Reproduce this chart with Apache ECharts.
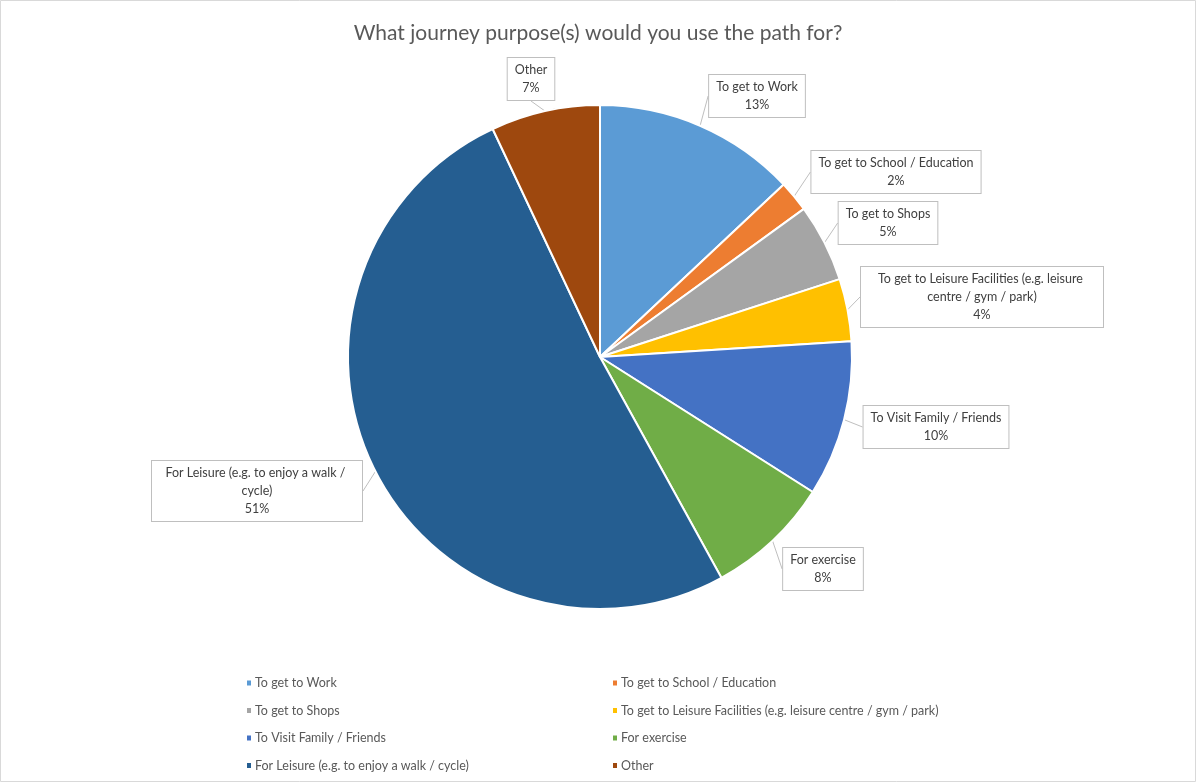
<!DOCTYPE html>
<html>
<head>
<meta charset="utf-8">
<script src="https://cdn.jsdelivr.net/npm/echarts@6/dist/echarts.min.js"></script>
<style>
  html, body { margin: 0; padding: 0; background: #fff; }
  #chart { width: 1196px; height: 782px; }
</style>
</head>
<body>
<div id="chart"></div>
<script>
// Survey answers: journey purposes for the path (share of responses, %)
const categories = [
  'To get to Work',
  'To get to School / Education',
  'To get to Shops',
  'To get to Leisure Facilities (e.g. leisure centre / gym / park)',
  'To Visit Family / Friends',
  'For exercise',
  'For Leisure (e.g. to enjoy a walk / cycle)',
  'Other'
];
const values = [13, 2, 5, 4, 10, 8, 51, 7];
const colors = ['#5B9BD5', '#ED7D31', '#A5A5A5', '#FFC000', '#4472C4', '#70AD47', '#255E91', '#9E480E'];

// Callout box centres and wrap widths for each slice label
const calloutCentres = [
  [757, 96], [896, 172], [888, 223], [982, 297],
  [936, 427], [823, 569], [257, 491], [531, 79]
];
const calloutWidths = [null, null, null, 228, null, null, 196, null];

const legendLeft = [categories[0], categories[2], categories[4], categories[6]];
const legendRight = [categories[1], categories[3], categories[5], categories[7]];

const FONT = 'Lato, "Open Sans", sans-serif';
const chart = echarts.init(document.getElementById('chart'), null, { renderer: 'canvas' });

const legendCommon = {
  orient: 'vertical',
  top: 671,
  itemWidth: 6,
  itemHeight: 7,
  itemGap: 13.5,
  icon: 'rect',
  textStyle: { fontFamily: FONT, fontSize: 12.5, color: '#595959', lineHeight: 14, padding: [0, 0, 0, -2] },
  selectedMode: false
};

chart.setOption({
  animation: false,
  backgroundColor: '#ffffff',
  color: colors,
  title: {
    text: 'What journey purpose(s) would you use the path for?',
    left: 'center',
    top: 18,
    textStyle: { fontFamily: FONT, fontSize: 21, fontWeight: 'normal', color: '#595959' }
  },
  graphic: [{
    type: 'rect',
    shape: { x: 0.5, y: 0.5, width: 1195, height: 781 },
    style: { fill: 'none', stroke: '#d9d9d9', lineWidth: 1 },
    silent: true
  }],
  legend: [
    Object.assign({ left: 240, data: legendLeft }, legendCommon),
    Object.assign({ left: 606, data: legendRight }, legendCommon)
  ],
  series: [{
    type: 'pie',
    center: [600, 357],
    radius: [0, 252],
    startAngle: 90,
    clockwise: true,
    percentPrecision: 0,
    itemStyle: { borderColor: '#ffffff', borderWidth: 2 },
    emphasis: { disabled: true },
    label: {
      show: true,
      position: 'outside',
      formatter: '{b}\n{d}%',
      fontFamily: FONT,
      fontSize: 12.5,
      lineHeight: 18,
      color: '#404040',
      align: 'center',
      backgroundColor: '#ffffff',
      borderColor: '#bfbfbf',
      borderWidth: 1,
      padding: [3, 7, 3, 7],
      overflow: 'break'
    },
    labelLine: {
      show: true,
      length: 3,
      length2: 0,
      lineStyle: { color: '#bfbfbf', width: 1 }
    },
    labelLayout: function (p) {
      const c = calloutCentres[p.dataIndex];
      return { x: c[0], y: c[1], align: 'center', verticalAlign: 'middle', hideOverlap: false };
    },
    data: categories.map(function (name, i) {
      const item = { name: name, value: values[i] };
      if (calloutWidths[i]) item.label = { width: calloutWidths[i] };
      return item;
    })
  }]
});
</script>
</body>
</html>
